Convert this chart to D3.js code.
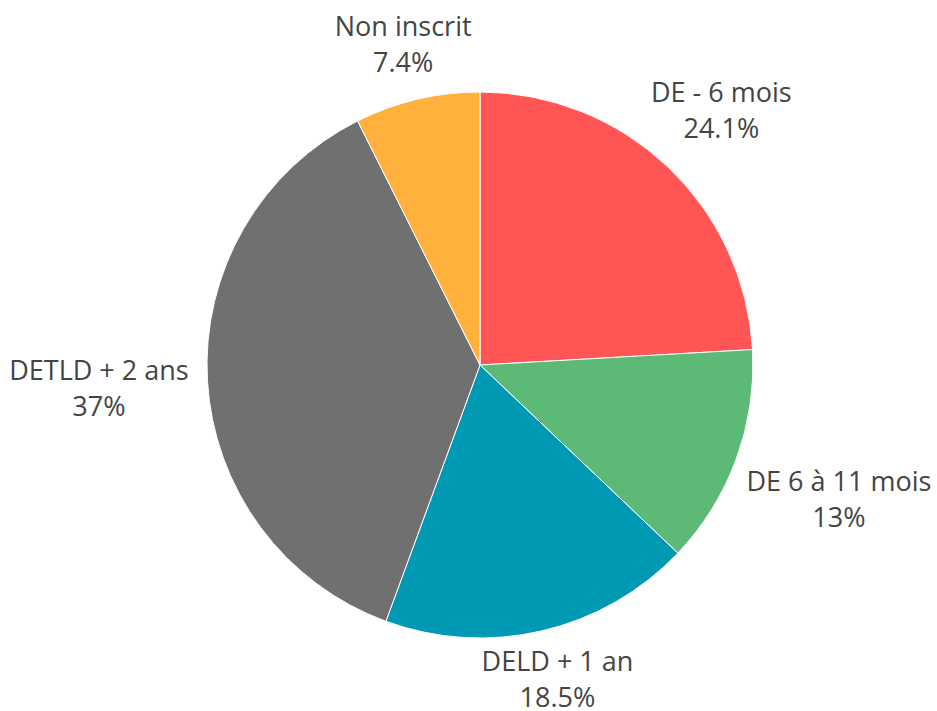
<!DOCTYPE html>
<html>
<head>
<meta charset="utf-8">
<script src="https://cdnjs.cloudflare.com/ajax/libs/d3/7.8.5/d3.min.js"></script>
<style>
  body { margin: 0; background: #fff; }
  text { font-family: "Open Sans", "Noto Sans", sans-serif; fill: #444; }
</style>
</head>
<body>
<div id="chart"></div>
<script>
const labels = ["DE - 6 mois", "DE 6 à 11 mois", "DELD + 1 an", "DETLD + 2 ans", "Non inscrit"];
const values = [24.1, 13, 18.5, 37, 7.4];
const colors = ["#ff5555", "#5cba76", "#0099b4", "#707070", "#ffb13b"];

const width = 937, height = 711;
const cx = 480, cy = 365, radius = 273;
const fontSize = 27, lineGap = 36;

const svg = d3.select("#chart").append("svg")
    .attr("width", width)
    .attr("height", height);

const g = svg.append("g").attr("transform", `translate(${cx},${cy})`);

const pie = d3.pie().sort(null).value(d => d.value);
const arc = d3.arc().innerRadius(0).outerRadius(radius);

const data = labels.map((l, i) => ({ label: l, value: values[i], color: colors[i] }));
const arcs = pie(data);

g.selectAll("path")
    .data(arcs)
    .enter().append("path")
    .attr("d", arc)
    .attr("fill", d => d.data.color)
    .attr("stroke", "#fff")
    .attr("stroke-width", 1);

// outside labels: text block pushed out along the slice's mid angle
const lbl = g.selectAll(".lbl")
    .data(arcs)
    .enter().append("g")
    .attr("class", "lbl");

lbl.each(function(d) {
    const el = d3.select(this);
    const t1 = el.append("text")
        .attr("text-anchor", "middle")
        .attr("font-size", fontSize)
        .text(d.data.label);
    const t2 = el.append("text")
        .attr("text-anchor", "middle")
        .attr("font-size", fontSize)
        .attr("y", lineGap)
        .text(d.data.value + "%");
    const w = Math.max(t1.node().getComputedTextLength(), t2.node().getComputedTextLength());
    const cap = fontSize * 0.72, desc = fontSize * 0.23;
    const h = cap + lineGap + desc;
    const a = (d.startAngle + d.endAngle) / 2;
    const sin = Math.sin(a), cos = Math.cos(a);
    const s = Math.max(-1, Math.min(1, -cos * 5));
    const rx = radius - 16 + 35 * Math.abs(sin);
    const ry = radius + 17 + 20 * Math.abs(sin);
    const bx = (rx + w / 2) * sin;
    const by = -cos * ry + (h / 2) * s;
    // block centre -> first baseline
    el.attr("transform", `translate(${bx},${by - h / 2 + cap})`);
});
</script>
</body>
</html>
